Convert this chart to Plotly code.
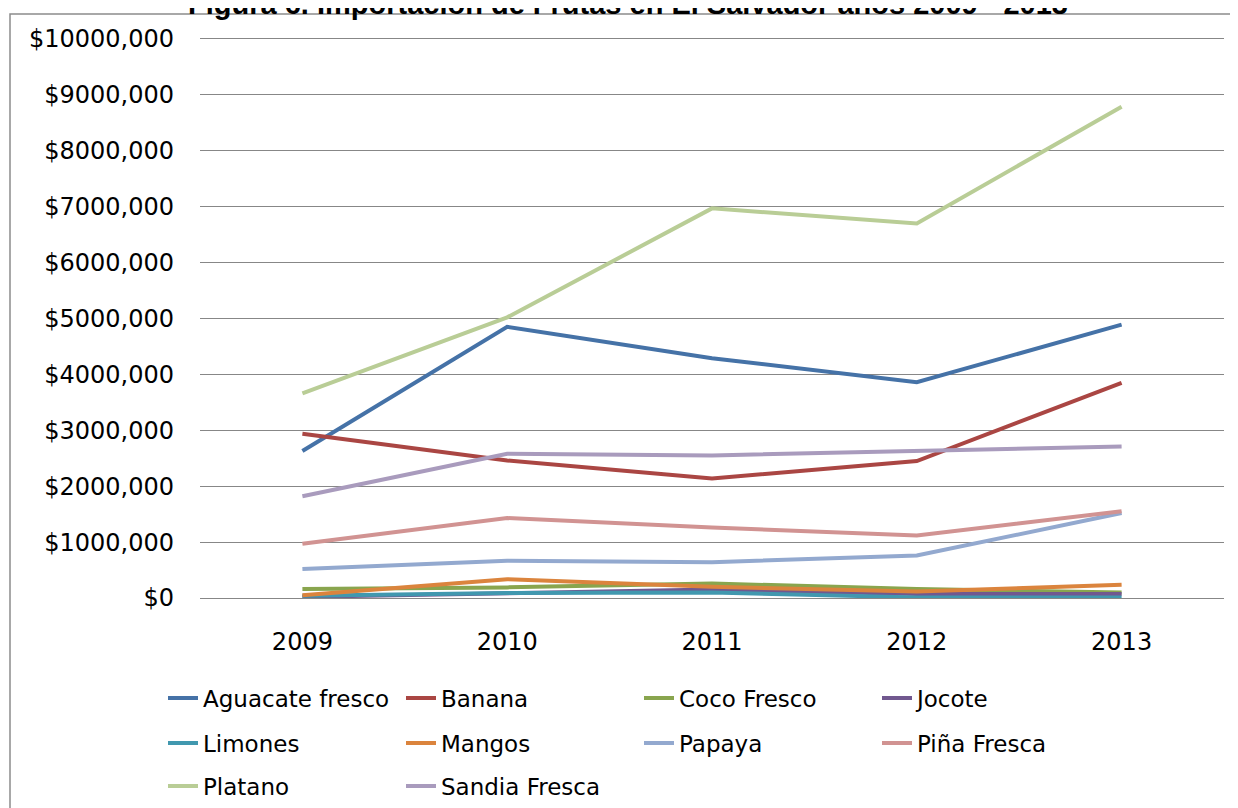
import plotly.graph_objects as go

years = ["2009", "2010", "2011", "2012", "2013"]

aguacate = [2630000, 4850000, 4290000, 3860000, 4890000]
banana = [2940000, 2460000, 2140000, 2450000, 3850000]
coco = [160000, 190000, 260000, 160000, 100000]
jocote = [20000, 80000, 150000, 70000, 70000]
limones = [40000, 90000, 100000, 10000, 10000]
mangos = [50000, 335000, 200000, 115000, 235000]
papaya = [520000, 665000, 640000, 760000, 1520000]
pina = [970000, 1430000, 1260000, 1120000, 1550000]
platano = [3660000, 5020000, 6970000, 6700000, 8790000]
sandia = [1820000, 2580000, 2550000, 2630000, 2710000]

series_names = ["Aguacate fresco", "Banana", "Coco Fresco", "Jocote", "Limones",
                "Mangos", "Papaya", "Piña Fresca", "Platano", "Sandia Fresca"]
series_values = [aguacate, banana, coco, jocote, limones, mangos, papaya, pina, platano, sandia]
series_colors = ["#4572A7", "#AA4643", "#89A54E", "#71588F", "#4198AF",
                 "#DB843D", "#93A9CF", "#D19392", "#B9CD96", "#A99BBD"]
legend_rows = ["legend", "legend", "legend", "legend", "legend2",
               "legend2", "legend2", "legend2", "legend3", "legend3"]

tick_vals = [0, 1000000, 2000000, 3000000, 4000000, 5000000,
             6000000, 7000000, 8000000, 9000000, 10000000]
tick_text = ["$0", "$1000,000", "$2000,000", "$3000,000", "$4000,000", "$5000,000",
             "$6000,000", "$7000,000", "$8000,000", "$9000,000", "$10000,000"]

title_text = "Figura 6. Importación de Frutas en El Salvador años 2009 - 2013"

FONT = "DejaVu Sans"
GRID = "#878787"

fig = go.Figure()
for name, vals, col, lg in zip(series_names, series_values, series_colors, legend_rows):
    fig.add_trace(go.Scatter(x=years, y=vals, name=name, mode="lines",
                             line=dict(color=col, width=4), legend=lg))

# the page body adds an 8px offset; figure coords = screen coords - 8
OFF = 8
W, H = 1238, 808
ml, mt = 200 - OFF, 39 - OFF
pw, ph = 1024, 559
mr = W - ml - pw
mb = H - mt - ph


def px_x(p):
    return (p - OFF - ml) / pw


def px_y(p):
    return (mt + ph - (p - OFF)) / ph


legend_common = dict(orientation="h", xanchor="left", yanchor="middle",
                      font=dict(family=FONT, size=23, color="#000000"),
                      entrywidth=193, entrywidthmode="pixels",
                      bgcolor="rgba(0,0,0,0)", itemclick=False)

fig.update_layout(
    template="none",
    width=W, height=H, autosize=False,
    margin=dict(l=ml, r=mr, t=mt, b=mb, autoexpand=False),
    paper_bgcolor="white", plot_bgcolor="white",
    font=dict(family=FONT, size=23, color="#000000"),
    showlegend=True,
    legend=dict(x=px_x(163), y=px_y(698), **legend_common),
    legend2=dict(x=px_x(163), y=px_y(743), **legend_common),
    legend3=dict(x=px_x(163), y=px_y(786), **legend_common),
    xaxis=dict(type="category", range=[-0.5, 4.5], showgrid=False, zeroline=False,
               showline=True, mirror=True, linecolor=GRID, linewidth=1.3,
               ticks="", ticklabelstandoff=22, automargin=False,
               tickfont=dict(family=FONT, size=24, color="#000000")),
    yaxis=dict(range=[0, 10000000], tickvals=tick_vals, ticktext=tick_text,
               showgrid=True, gridcolor=GRID, gridwidth=1.3, automargin=False,
               zeroline=False, showline=False, ticks="", ticklabelstandoff=25,
               tickfont=dict(family=FONT, size=24, color="#000000")),
    shapes=[dict(type="rect", xref="paper", yref="paper",
                 x0=px_x(10), y0=px_y(14), x1=px_x(1260), y1=px_y(830),
                 line=dict(color="#8C8C8C", width=1.5), fillcolor="rgba(0,0,0,0)",
                 layer="below")],
    annotations=[dict(text="<b>" + title_text + "</b>", xref="paper", yref="paper",
                      x=px_x(628), y=px_y(4), xanchor="center", yanchor="middle",
                      showarrow=False,
                      font=dict(family="Liberation Sans", size=29, color="#000000"))],
)

fig.write_html("out.html")
